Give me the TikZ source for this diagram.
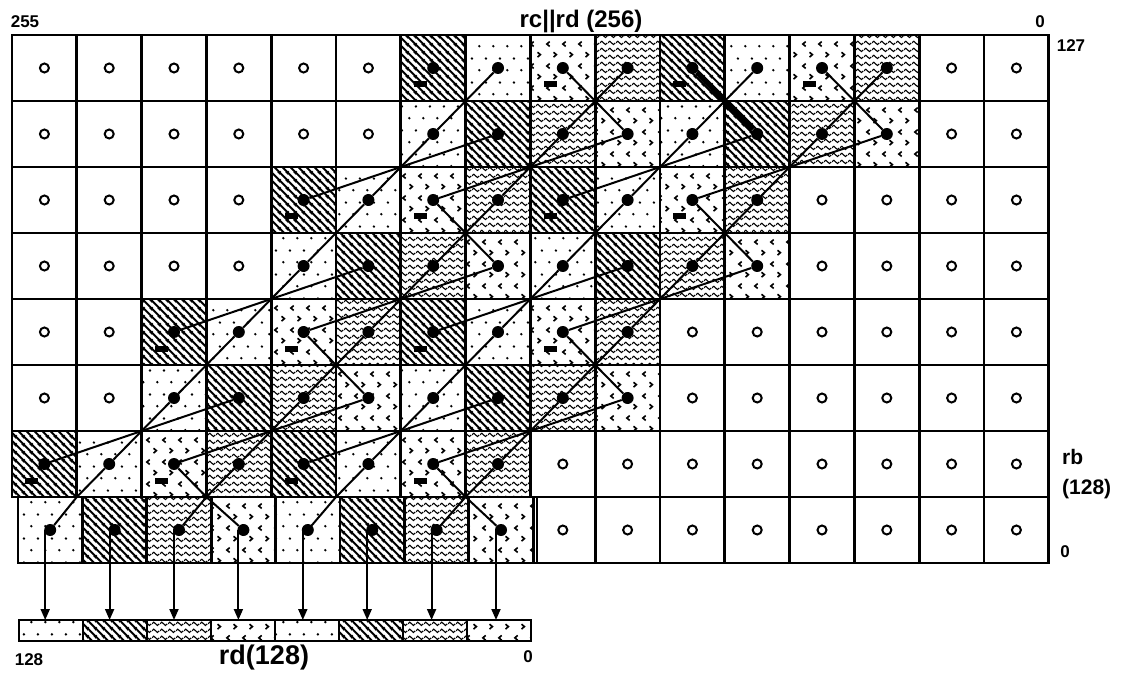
\documentclass[tikz,border=0pt]{standalone}
\usepackage{fontspec}
\setmainfont{Liberation Sans}
\usetikzlibrary{patterns,arrows.meta}

\pgfdeclarepatternformonly{hatchD}{\pgfqpoint{0pt}{0pt}}{\pgfqpoint{8pt}{8pt}}{\pgfqpoint{8pt}{8pt}}{%
  \pgfsetlinewidth{2.1pt}%
  \pgfpathmoveto{\pgfqpoint{-2pt}{10pt}}\pgfpathlineto{\pgfqpoint{10pt}{-2pt}}%
  \pgfpathmoveto{\pgfqpoint{-2pt}{2pt}}\pgfpathlineto{\pgfqpoint{2pt}{-2pt}}%
  \pgfpathmoveto{\pgfqpoint{6pt}{10pt}}\pgfpathlineto{\pgfqpoint{10pt}{6pt}}%
  \pgfusepath{stroke}}

\pgfdeclarepatternformonly{dotsP}{\pgfqpoint{0pt}{0pt}}{\pgfqpoint{14pt}{24pt}}{\pgfqpoint{14pt}{24pt}}{%
  \pgfpathcircle{\pgfqpoint{3.5pt}{6pt}}{1.4pt}%
  \pgfpathcircle{\pgfqpoint{10.5pt}{18pt}}{1.4pt}%
  \pgfusepath{fill}}

\pgfdeclarepatternformonly{waveW}{\pgfqpoint{0pt}{0pt}}{\pgfqpoint{8pt}{7pt}}{\pgfqpoint{8pt}{7pt}}{%
  \pgfsetlinewidth{1.2pt}%
  \pgfpathmoveto{\pgfqpoint{0pt}{3.5pt}}%
  \pgfpathcurveto{\pgfqpoint{1.3pt}{6pt}}{\pgfqpoint{2.7pt}{6pt}}{\pgfqpoint{4pt}{3.5pt}}%
  \pgfpathcurveto{\pgfqpoint{5.3pt}{1pt}}{\pgfqpoint{6.7pt}{1pt}}{\pgfqpoint{8pt}{3.5pt}}%
  \pgfusepath{stroke}}

\pgfdeclarepatternformonly{chevC}{\pgfqpoint{0pt}{0pt}}{\pgfqpoint{16pt}{22pt}}{\pgfqpoint{16pt}{22pt}}{%
  \pgfsetlinewidth{1.7pt}%
  \pgfpathmoveto{\pgfqpoint{6pt}{19pt}}\pgfpathlineto{\pgfqpoint{3pt}{16.5pt}}\pgfpathlineto{\pgfqpoint{6pt}{14pt}}%
  \pgfpathmoveto{\pgfqpoint{10pt}{8pt}}\pgfpathlineto{\pgfqpoint{13pt}{5.5pt}}\pgfpathlineto{\pgfqpoint{10pt}{3pt}}%
  \pgfusepath{stroke}}

\begin{document}
\begin{tikzpicture}[x=1pt,y=-1pt,
  cell/.style={draw=black, line width=2.8pt, minimum width=64.8pt, minimum height=66pt, inner sep=0pt, outer sep=0pt},
  tO/.style={fill=white},
  tD/.style={preaction={fill=white}, pattern=hatchD},
  tP/.style={preaction={fill=white}, pattern=dotsP},
  tC/.style={preaction={fill=white}, pattern=chevC},
  tW/.style={preaction={fill=white}, pattern=waveW},
  dotn/.style={circle, fill=black, inner sep=0pt, minimum size=12pt},
  circn/.style={circle, draw=black, line width=2pt, fill=white, inner sep=0pt, minimum size=9pt},
  markn/.style={rectangle, fill=black, inner sep=0pt, minimum width=13pt, minimum height=6pt},
  link/.style={line width=2pt},
  boldlink/.style={line width=5pt},
  arr/.style={line width=1.9pt, -{Triangle[length=11pt,width=9pt]}},
  barcell/.style={draw=black, line width=2.4pt, minimum width=64pt, minimum height=21pt, inner sep=0pt, outer sep=0pt},
  lbl/.style={inner sep=0pt, font=\bfseries\fontsize{17}{17}\selectfont},
]
\useasboundingbox[fill=white] (0,0) rectangle (1121,676);

% main grid rows 1-7
\foreach \r/\lst in {
  1/{O,O,O,O,O,O,D,P,C,W,D,P,C,W,O,O},
  2/{O,O,O,O,O,O,P,D,W,C,P,D,W,C,O,O},
  3/{O,O,O,O,D,P,C,W,D,P,C,W,O,O,O,O},
  4/{O,O,O,O,P,D,W,C,P,D,W,C,O,O,O,O},
  5/{O,O,D,P,C,W,D,P,C,W,O,O,O,O,O,O},
  6/{O,O,P,D,W,C,P,D,W,C,O,O,O,O,O,O},
  7/{D,P,C,W,D,P,C,W,O,O,O,O,O,O,O,O}} {
  \foreach \t [count=\c] in \lst {
    \node[cell, t\t] (c-\r-\c) at ({12+(\c-0.5)*64.8},{35+(\r-0.5)*66}) {};
    \if\t O
      \node[circn] (o-\r-\c) at (c-\r-\c.center) {};
    \else
      \node[dotn] (d-\r-\c) at (c-\r-\c.center) {};
    \fi
  }
}
% row 8, right part
\foreach \c in {9,...,16} {
  \node[cell, tO] (c-8-\c) at ({12+(\c-0.5)*64.8},530) {};
  \node[circn] (o-8-\c) at (c-8-\c.center) {};
}
% row 8, shifted band
\foreach \t [count=\k] in {P,D,W,C,P,D,W,C} {
  \node[cell, minimum width=64.4pt, t\t] (b-\k) at ({18+(\k-0.5)*64.4},530) {};
  \node[dotn] (d-8-\k) at (b-\k.center) {};
}
\draw[line width=1.8pt] ([xshift=6.5pt]c-8-9.north west) -- ([xshift=6.5pt]c-8-9.south west);

% marks
\foreach \r/\c in {1/7,1/9,1/11,1/13,3/5,3/7,3/9,3/11,5/3,5/5,5/7,5/9,7/1,7/3,7/5,7/7}
  \node[markn] (m-\r-\c) at ([xshift=-12.5pt,yshift=-16.5pt]c-\r-\c.center) {};

% diagonal chains
\draw[link] (d-1-8) -- (d-2-7) -- (d-3-6) -- (d-4-5) -- (d-5-4) -- (d-6-3) -- (d-7-2) -- (c-7-1.south east) -- (d-8-1);
\draw[link] (d-1-12) -- (d-2-11) -- (d-3-10) -- (d-4-9) -- (d-5-8) -- (d-6-7) -- (d-7-6) -- (c-7-5.south east) -- (d-8-5);
\draw[link] (d-1-10) -- (d-2-9) -- (d-3-8) -- (d-4-7) -- (d-5-6) -- (d-6-5) -- (d-7-4) -- (c-7-3.south east) -- (d-8-3);
\draw[link] (d-1-14) -- (d-2-13) -- (d-3-12) -- (d-4-11) -- (d-5-10) -- (d-6-9) -- (d-7-8) -- (c-7-7.south east) -- (d-8-7);
\draw[link] (d-1-9) -- (d-2-10) -- (d-3-7) -- (d-4-8) -- (d-5-5) -- (d-6-6) -- (d-7-3) -- (c-7-3.south east) -- (d-8-4);
\draw[link] (d-1-13) -- (d-2-14) -- (d-3-11) -- (d-4-12) -- (d-5-9) -- (d-6-10) -- (d-7-7) -- (c-7-7.south east) -- (d-8-8);
\foreach \a/\b in {3-5/2-8, 5-3/4-6, 7-1/6-4, 3-9/2-12, 5-7/4-10, 7-5/6-8}
  \draw[link] (d-\a) -- (d-\b);
\draw[boldlink] (d-1-11) -- (d-2-12);

% output bar
\foreach \t [count=\k] in {P,D,W,C,P,D,W,C}
  \node[barcell, t\t] (bar-\k) at ({19+(\k-0.5)*64},630.5) {};
\foreach \k in {1,...,8} {
  \coordinate (a-\k) at ([xshift=-5pt]d-8-\k.center);
  \draw[arr] (a-\k) -- (a-\k |- bar-\k.north);
}

% labels
\node[lbl] (l255) at (25,22) {255};
\node[lbl, font=\bfseries\fontsize{24}{24}\selectfont] (ltop) at (581,21) {rc||rd (256)};
\node[lbl] (l0t) at (1040,22) {0};
\node[lbl] (l127) at (1071,46) {127};
\node[lbl, anchor=west, font=\bfseries\fontsize{21}{21}\selectfont] (lrb) at (1062,457) {rb};
\node[lbl, anchor=west, font=\bfseries\fontsize{21}{21}\selectfont] (l128) at (1062,489) {(128)};
\node[lbl] (l0r) at (1065,552) {0};
\node[lbl] (l128b) at (29,660) {128};
\node[lbl, font=\bfseries\fontsize{27}{27}\selectfont] (lrd) at (264,658) {rd(128)};
\node[lbl] (l0b) at (528,657) {0};
\end{tikzpicture}
\end{document}
